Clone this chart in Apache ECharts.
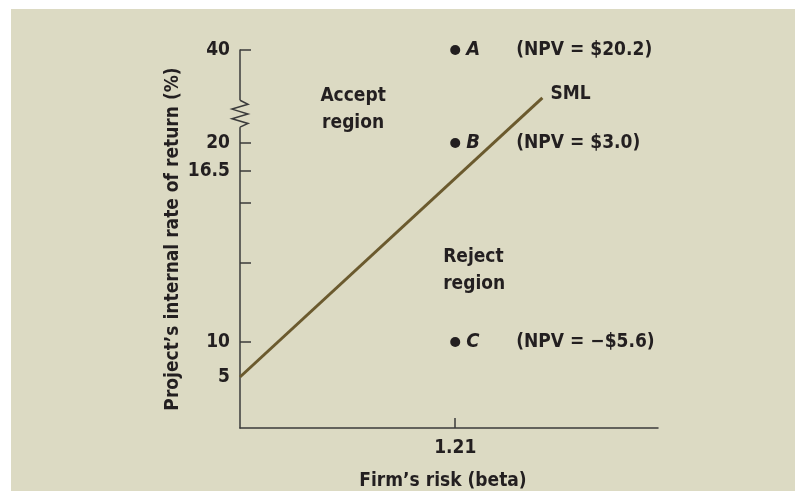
<!DOCTYPE html>
<html><head><meta charset="utf-8">
<script src="https://cdn.jsdelivr.net/npm/echarts@6/dist/echarts.min.js"></script>
<style>
html,body{margin:0;padding:0;background:#fff;}
#bg{position:absolute;left:11px;top:9px;right:0;bottom:0;background:#dcdac3;}
#chart{position:absolute;left:0;top:0;width:795px;height:491px;}
</style></head><body>
<div id="bg"></div><div id="chart"></div>
<script>
// ---- data ----
const projectNames = ['A', 'B', 'C'];
const projectBeta = [1.21, 1.21, 1.21];
const projectIRR = [40, 20, 10];
const projectNPV = ['$20.2', '$3.0', '\u2212$5.6'];
const smlBeta = [0, 1.70];
const smlReturn = [5, 29.7];
const xTickValues = [1.21];
const yLabelValues = [5, 10, 16.5, 20, 40];
const yLabelTexts = ['5', '10', '16.5', '20', '40'];
const yTickValues = [10, 13, 15.3, 16.5, 20, 40];
// schematic (broken) y scale: return -> display unit
const scaleReturn = [0, 5, 10, 16.5, 20, 40];
const scaleUnit = [0, 51, 86, 257, 285, 378];
const breakRange = [23.4, 29.2];
const regionTexts = ['Accept\nregion', 'Reject\nregion'];
const regionBeta = [0.636, 1.142];
const regionReturn = [27.1, 12.7];

// ---- helpers ----
function yScale(r) {
  for (let i = 1; i < scaleReturn.length; i++) {
    if (r <= scaleReturn[i]) {
      const t = (r - scaleReturn[i - 1]) / (scaleReturn[i] - scaleReturn[i - 1]);
      return scaleUnit[i - 1] + t * (scaleUnit[i] - scaleUnit[i - 1]);
    }
  }
  return scaleUnit[scaleUnit.length - 1];
}
const FONT = "'Liberation Sans Narrow','DejaVu Sans Condensed','Arial Narrow',sans-serif";
const INK = '#231f20';
const AXIS = '#3b3b3b';
const yLabelUnits = yLabelValues.map(yScale);
const yTickUnits = yTickValues.map(yScale);

const chart = echarts.init(document.getElementById('chart'), null, { renderer: 'canvas' });
chart.setOption({
  backgroundColor: 'transparent',
  animation: false,
  textStyle: { fontFamily: FONT },
  grid: { left: 240, top: 50, right: 137, bottom: 63, containLabel: false, outerBoundsMode: 'none' },
  xAxis: {
    type: 'value', min: 0, max: 2.35,
    name: 'Firm\u2019s risk (beta)', nameLocation: 'middle', nameGap: 44,
    nameTextStyle: { fontFamily: FONT, fontSize: 19, fontWeight: 'bold', color: INK, padding: [0, 12, 0, 0] },
    axisLine: { show: true, lineStyle: { color: AXIS, width: 1.5 } },
    axisTick: { show: true, inside: true, length: 10, customValues: xTickValues, lineStyle: { color: AXIS, width: 1.5 } },
    axisLabel: { show: true, customValues: xTickValues, margin: 11, fontFamily: FONT, fontSize: 19, fontWeight: 'bold', color: INK,
      formatter: v => v.toFixed(2) },
    splitLine: { show: false }
  },
  yAxis: {
    type: 'value', min: 0, max: scaleUnit[scaleUnit.length - 1],
    name: 'Project\u2019s internal rate of return (%)', nameLocation: 'middle', nameGap: 57, nameMoveOverlap: false,
    nameTextStyle: { fontFamily: FONT, fontSize: 19, fontWeight: 'bold', color: INK },
    axisLine: { show: true, lineStyle: { color: AXIS, width: 1.5 } },
    axisTick: { show: true, inside: true, length: 11, customValues: yTickUnits, lineStyle: { color: AXIS, width: 1.5 } },
    axisLabel: { show: true, customValues: yLabelUnits, margin: 10, fontFamily: FONT, fontSize: 19, fontWeight: 'bold', color: INK,
      formatter: v => {
        let best = 0, d = 1e9;
        yLabelUnits.forEach((u, i) => { if (Math.abs(u - v) < d) { d = Math.abs(u - v); best = i; } });
        return yLabelTexts[best];
      } },
    splitLine: { show: false }
  },
  series: [
    {
      type: 'custom', clip: false, silent: true, z: 5,
      data: [[0]],
      renderItem: (params, api) => {
        const p1 = api.coord([0, yScale(breakRange[0])]);
        const p2 = api.coord([0, yScale(breakRange[1])]);
        const x = p1[0], yb = p1[1], yt = p2[1];
        const h = yb - yt;
        const pts = [[x, yt], [x + 8, yt + h * 0.15], [x - 8, yt + h * 0.33], [x + 8, yt + h * 0.51],
                     [x - 8, yt + h * 0.69], [x + 8, yt + h * 0.86], [x, yb]];
        return {
          type: 'group',
          children: [
            { type: 'rect', shape: { x: x - 3, y: yt, width: 6, height: h }, style: { fill: '#dcdac3' } },
            { type: 'polyline', shape: { points: pts }, style: { stroke: AXIS, lineWidth: 1.5, fill: null } }
          ]
        };
      }
    },
    {
      type: 'line', name: 'SML', z: 3,
      data: smlBeta.map((b, i) => [b, yScale(smlReturn[i])]),
      symbol: 'none',
      lineStyle: { color: '#6b5a2e', width: 3 },
      endLabel: { show: true, formatter: 'SML', distance: 8, offset: [0, -4], fontFamily: FONT, fontSize: 19, fontWeight: 'bold', color: INK }
    },
    {
      type: 'scatter', z: 4,
      data: projectBeta.map((b, i) => ({ value: [b, yScale(projectIRR[i])], name: projectNames[i] })),
      symbol: 'circle', symbolSize: 10,
      itemStyle: { color: INK, opacity: 1 },
      label: {
        show: true, position: 'right', distance: 6,
        formatter: p => '{n|' + p.name + '}{v|(NPV = ' + projectNPV[p.dataIndex] + ')}',
        rich: {
          n: { fontFamily: FONT, fontSize: 20, fontWeight: 'bold', fontStyle: 'italic', color: INK, width: 50 },
          v: { fontFamily: FONT, fontSize: 19, fontWeight: 'bold', color: INK }
        }
      }
    },
    {
      type: 'scatter', z: 4, silent: true,
      data: regionBeta.map((b, i) => ({
        value: [b, yScale(regionReturn[i])],
        label: { align: i === 0 ? 'center' : 'left' }
      })),
      symbolSize: 0,
      itemStyle: { opacity: 1 },
      label: {
        show: true, position: 'inside',
        formatter: p => regionTexts[p.dataIndex],
        fontFamily: FONT, fontSize: 19, fontWeight: 'bold', color: INK, lineHeight: 27
      }
    }
  ]
});
</script>
</body></html>
